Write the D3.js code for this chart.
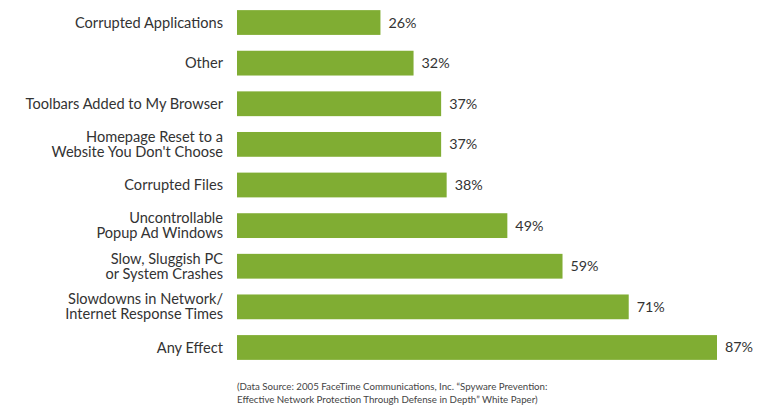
<!DOCTYPE html>
<html>
<head>
<meta charset="utf-8">
<script src="https://cdn.jsdelivr.net/npm/d3@7"></script>
<style>
  body { margin: 0; background: #fff; }
  svg { display: block; font-family: Lato, "Open Sans", sans-serif; }
</style>
</head>
<body>
<div id="chart"></div>
<script>
// categories top to bottom, each label split into lines
var categories = [
  ["Corrupted Applications"],
  ["Other"],
  ["Toolbars Added to My Browser"],
  ["Homepage Reset to a", "Website You Don't Choose"],
  ["Corrupted Files"],
  ["Uncontrollable", "Popup Ad Windows"],
  ["Slow, Sluggish PC", "or System Crashes"],
  ["Slowdowns in Network/", "Internet Response Times"],
  ["Any Effect"]
];
var values = [26, 32, 37, 37, 38, 49, 59, 71, 87];
var sourceLines = [
  "(Data Source: 2005 FaceTime Communications, Inc. \u201cSpyware Prevention:",
  "Effective Network Protection Through Defense in Depth\u201d White Paper)"
];

var width = 771, height = 410;
var svg = d3.select("#chart").append("svg")
  .attr("width", width)
  .attr("height", height);

var x = d3.scaleLinear()
  .domain([0, 87])
  .range([237, 717]);

var y = d3.scaleBand()
  .domain(d3.range(values.length))
  .range([2, 368])
  .paddingInner(0.39)
  .paddingOuter(0.2);

var rows = svg.selectAll("g.row")
  .data(values)
  .enter().append("g")
  .attr("class", "row");

rows.append("rect")
  .attr("x", x(0))
  .attr("y", function (d, i) { return y(i); })
  .attr("width", function (d) { return x(d) - x(0); })
  .attr("height", y.bandwidth())
  .attr("fill", "#80ad33");

rows.append("text")
  .attr("x", function (d) { return x(d) + 8; })
  .attr("y", function (d, i) { return y(i) + y.bandwidth() / 2; })
  .attr("dy", "0.35em")
  .attr("font-size", 14.3)
  .attr("fill", "#333")
  .text(function (d) { return d + "%"; });

var lineH = 15;
rows.append("text")
  .attr("text-anchor", "end")
  .attr("font-size", 14.6)
  .attr("fill", "#333")
  .attr("x", 223)
  .attr("y", function (d, i) {
    var n = categories[i].length;
    return y(i) + y.bandwidth() / 2 - (n - 1) * lineH / 2;
  })
  .each(function (d, i) {
    var t = d3.select(this);
    categories[i].forEach(function (line, k) {
      t.append("tspan")
        .attr("x", 223)
        .attr("dy", k === 0 ? "0.35em" : lineH)
        .text(line);
    });
  });

svg.append("text")
  .attr("font-size", 9.7)
  .attr("fill", "#444")
  .selectAll("tspan")
  .data(sourceLines)
  .enter().append("tspan")
  .attr("x", 237)
  .attr("y", function (d, i) { return 390 + i * 12.5; })
  .text(function (d) { return d; });
</script>
</body>
</html>
